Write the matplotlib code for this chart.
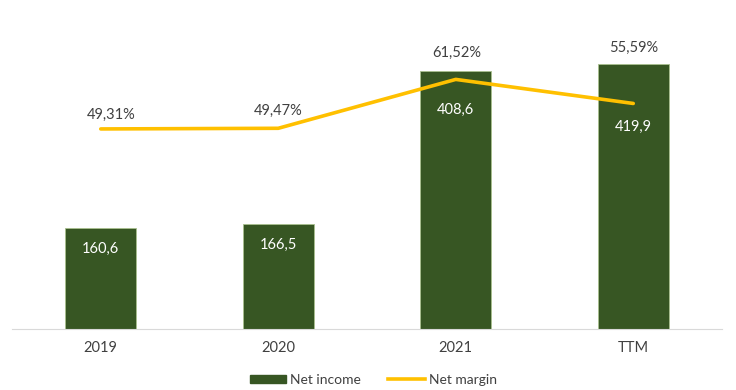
import matplotlib
matplotlib.use("Agg")
import matplotlib.pyplot as plt
from matplotlib.patches import Patch
from matplotlib.lines import Line2D

categories = ["2019", "2020", "2021", "TTM"]
net_income = [160.6, 166.5, 408.6, 419.9]
net_margin = [49.31, 49.47, 61.52, 55.59]
income_labels = ["160,6", "166,5", "408,6", "419,9"]
margin_labels = ["49,31%", "49,47%", "61,52%", "55,59%"]

plt.rcParams['font.family'] = ['Lato', 'DejaVu Sans']
TXT = "#404040"
BAR = "#375623"
LINE = "#FFC000"

fig = plt.figure(figsize=(7.36, 3.9), dpi=100)
ax = fig.add_axes([12/736, 61/390, 710/736, 284/390])
ax2 = ax.twinx()

x = list(range(len(categories)))
ax.bar(x, net_income, width=0.4, color=BAR, edgecolor="#a9c08e", linewidth=0.6, zorder=2)
ax.set_xlim(-0.5, 3.5)
ax.set_ylim(0, 450)
ax2.set_ylim(0, 70)
ax2.plot(x, net_margin, color=LINE, lw=2.6, solid_capstyle="round", zorder=3)

for a in (ax, ax2):
    for s in a.spines.values():
        s.set_visible(False)
    a.set_yticks([])
ax.spines['bottom'].set_visible(True)
ax.spines['bottom'].set_color("#d9d9d9")
ax.set_xticks(x)
ax.set_xticklabels(categories, fontsize=10.5, color=TXT)
ax.tick_params(axis='x', length=0, pad=9)

# bar value labels (offset in points below bar top)
bar_label_off = [-21, -21, -39, -63]
for i, (v, t) in enumerate(zip(net_income, income_labels)):
    ax.annotate(t, (i, v), xytext=(0, bar_label_off[i] * 0.72), textcoords="offset points",
                ha="center", va="center", color="white", fontsize=10.5, zorder=4)

# line labels
margin_off = [(10, 14), (0, 17), (1, 27), (0, 56)]
for i, (v, t) in enumerate(zip(net_margin, margin_labels)):
    dx, dy = margin_off[i]
    ax2.annotate(t, (i, v), xytext=(dx * 0.72, dy * 0.72), textcoords="offset points",
                 ha="center", va="center", color=TXT, fontsize=10.5, zorder=4)

handles = [Patch(facecolor=BAR, edgecolor=BAR), Line2D([0], [0], color=LINE, lw=2.6)]
fig.legend(handles, ["Net income", "Net margin"], loc="center", bbox_to_anchor=(0.507, 10/390),
           ncol=2, frameon=False, fontsize=10, labelcolor=TXT, handlelength=2.6,
           handleheight=0.55, handletextpad=0.3, columnspacing=2.0)

fig.savefig("out.png", dpi=100)
